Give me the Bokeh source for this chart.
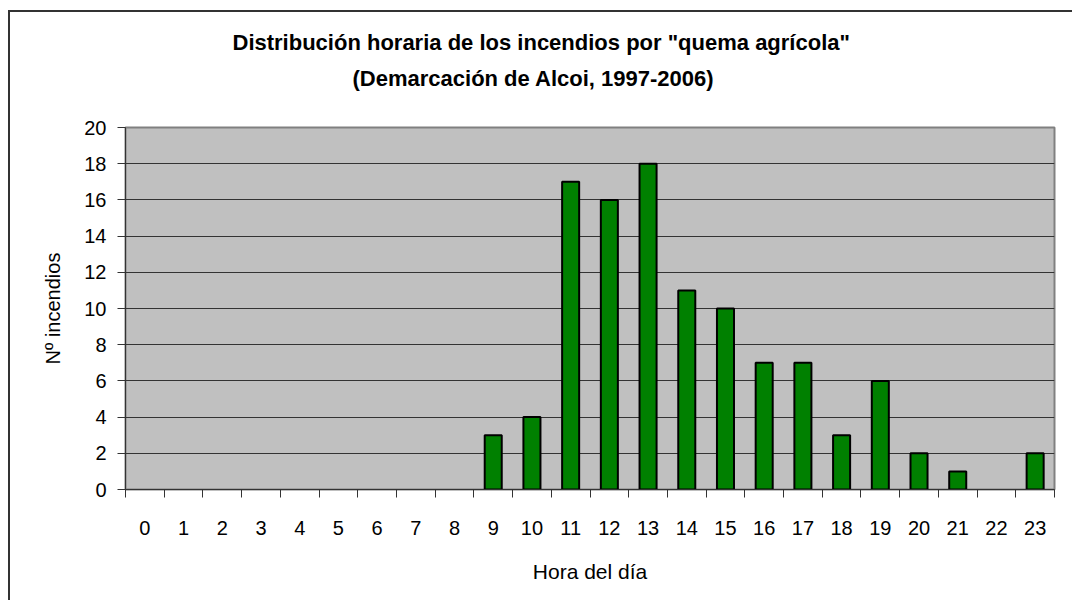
from bokeh.plotting import figure
from bokeh.models import FixedTicker, Range1d, ColumnDataSource, Title
from bokeh.embed import file_html
from bokeh.resources import INLINE

hours = list(range(24))
counts = [0, 0, 0, 0, 0, 0, 0, 0, 0, 3, 4, 17, 16, 18, 11, 10, 7, 7, 3, 6, 2, 1, 0, 2]
y_ticks = list(range(0, 21, 2))
title_lines = ['Distribución horaria de los incendios por "quema agrícola"',
               '(Demarcación de Alcoi, 1997-2006)']

FONT = "Liberation Sans"
W, H = 1064, 590

# only hours with fires get a visible bar (Excel draws nothing for 0)
src = ColumnDataSource(data=dict(
    hour=[h for h, c in zip(hours, counts) if c > 0],
    count=[c for c in counts if c > 0],
))

p = figure(width=W, height=H, output_backend="svg", toolbar_location=None, title=None,
           x_range=Range1d(-0.5, 23.5), y_range=Range1d(0, 20),
           min_border_left=115, min_border_right=20, min_border_top=115, min_border_bottom=113,
           styles={"border-left": "2px solid #333333", "border-top": "2px solid #333333",
                   "margin-left": "8px", "margin-top": "10px"})

# blank spacer between the plot frame and the two title lines
p.add_layout(Title(text="\u00a0", standoff=10, text_font=FONT, text_font_size="22px"), "above")
# second line (closer to the frame), then first line above it
p.add_layout(Title(text=title_lines[1], align="left", offset=227, standoff=0,
                   text_font=FONT, text_font_style="bold", text_font_size="22px",
                   text_color="black"), "above")
p.add_layout(Title(text=title_lines[0], align="left", offset=107, standoff=17,
                   text_line_height=0.75,
                   text_font=FONT, text_font_style="bold", text_font_size="22px",
                   text_color="black"), "above")

p.background_fill_color = "#C0C0C0"
p.border_fill_color = "white"
p.outline_line_color = "#808080"
p.outline_line_width = 2

p.vbar(x="hour", top="count", source=src, width=0.44,
       fill_color="#008000", line_color="black", line_width=2)

p.xgrid.grid_line_color = None
p.ygrid.grid_line_color = "#333333"
p.ygrid.grid_line_width = 1
p.ygrid.ticker = FixedTicker(ticks=y_ticks)

p.yaxis.ticker = FixedTicker(ticks=y_ticks)
p.yaxis.major_tick_out = 8
p.yaxis.major_tick_in = 0
p.yaxis.minor_tick_line_color = None
p.yaxis.axis_line_color = "#333333"
p.yaxis.major_tick_line_color = "#333333"
p.yaxis.major_label_text_font = FONT
p.yaxis.major_label_text_font_size = "20px"
p.yaxis.major_label_text_color = "black"
p.yaxis.major_label_standoff = 11
p.yaxis.axis_label = "Nº incendios"
p.yaxis.axis_label_text_font = FONT
p.yaxis.axis_label_text_font_style = "normal"
p.yaxis.axis_label_text_font_size = "20px"
p.yaxis.axis_label_text_color = "black"
p.yaxis.axis_label_standoff = 17

p.xaxis.ticker = FixedTicker(ticks=hours, minor_ticks=[h + 0.5 for h in range(-1, 24)])
p.xaxis.major_tick_out = 0
p.xaxis.major_tick_in = 0
p.xaxis.minor_tick_out = 8
p.xaxis.minor_tick_in = 0
p.xaxis.minor_tick_line_color = "#333333"
p.xaxis.axis_line_color = "#333333"
p.xaxis.major_label_text_font = FONT
p.xaxis.major_label_text_font_size = "20px"
p.xaxis.major_label_text_color = "black"
p.xaxis.major_label_standoff = 23
p.xaxis.axis_label = "Hora del día"
p.xaxis.axis_label_text_font = FONT
p.xaxis.axis_label_text_font_style = "normal"
p.xaxis.axis_label_text_font_size = "21px"
p.xaxis.axis_label_text_color = "black"
p.xaxis.axis_label_standoff = 22

open("out.html", "w").write(file_html(p, INLINE))
